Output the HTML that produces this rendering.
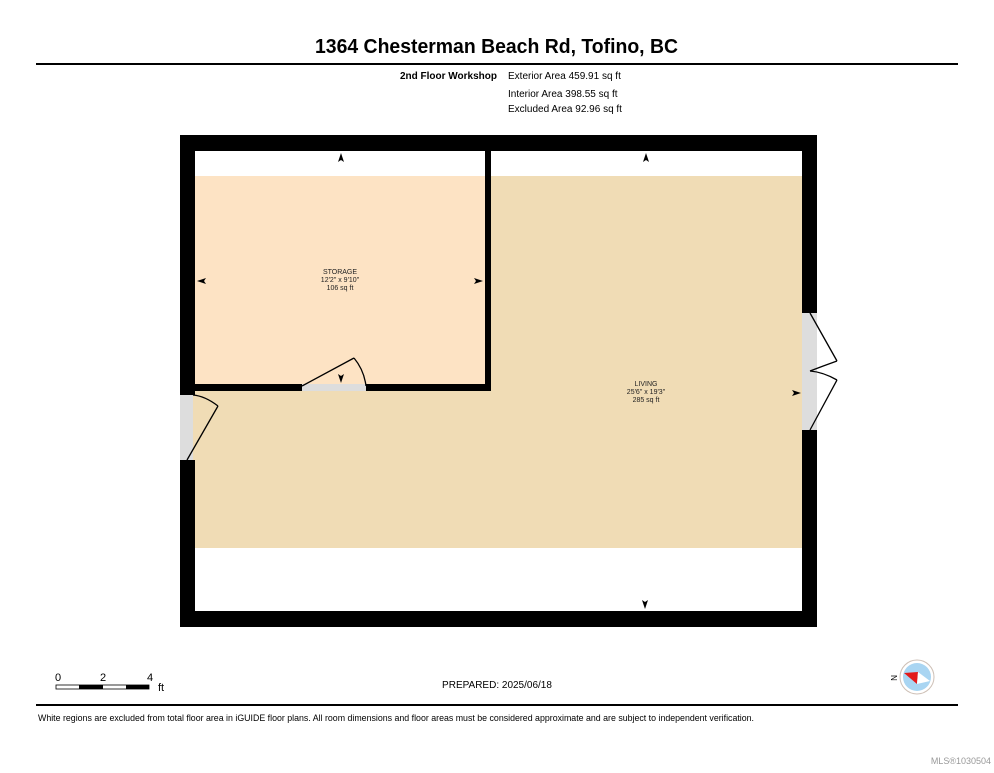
<!DOCTYPE html>
<html><head><style>
body{margin:0;background:#fff;width:994px;height:768px;overflow:hidden;font-family:"Liberation Sans",Arial,sans-serif}
</style></head><body>
<svg width="994" height="768" xmlns="http://www.w3.org/2000/svg" font-family="Liberation Sans, Arial, sans-serif">
<text x="315" y="53" font-size="20" font-weight="bold" textLength="363" lengthAdjust="spacingAndGlyphs">1364 Chesterman Beach Rd, Tofino, BC</text>
<rect x="36" y="63" width="922" height="2" fill="#000"/>
<text x="497" y="79" text-anchor="end" font-size="10" font-weight="bold">2nd Floor Workshop</text>
<text x="508" y="79" font-size="10">Exterior Area 459.91 sq ft</text>
<text x="508" y="97" font-size="10">Interior Area 398.55 sq ft</text>
<text x="508" y="112" font-size="10">Excluded Area 92.96 sq ft</text>

<rect x="193" y="176" width="609" height="372" fill="#f0dcb5"/>
<rect x="195" y="176" width="290" height="208" fill="#fde3c4"/>
<path fill="#000" fill-rule="evenodd" d="M180 135H817V313H802V151H195V395H180Z M180 460H195V611H802V430H817V627H180Z"/>
<rect x="485" y="151" width="6" height="240" fill="#000"/>
<rect x="180" y="384" width="122" height="7" fill="#000"/>
<rect x="366" y="384" width="125" height="7" fill="#000"/>
<rect x="180" y="395" width="13" height="65" fill="#ddd"/>
<rect x="802" y="313" width="15" height="117" fill="#ddd"/>
<rect x="302" y="384" width="64" height="7" fill="#ddd"/>
<g fill="none" stroke="#000" stroke-width="1.3">
<line x1="302" y1="386" x2="354" y2="358"/>
<path d="M354 358 Q364 370 366 386"/>
<line x1="187" y1="460" x2="218" y2="406"/>
<path d="M218 406 Q205 396 193 395"/>
<line x1="810" y1="313" x2="837" y2="361"/>
<path d="M837 361 Q823 366 810 371"/>
<line x1="810" y1="430" x2="837" y2="380"/>
<path d="M837 380 Q823 372 810 371"/>
</g>
<g fill="#000">
<path d="M341 153l-3 9 3-2 3 2z"/>
<path d="M646 153l-3 9 3-2 3 2z"/>
<path d="M645 609l-3-9 3 2 3-2z"/>
<path d="M197 281l9-3-2 3 2 3z"/>
<path d="M483 281l-9-3 2 3-2 3z"/>
<path d="M341 383l-3-9 3 2 3-2z"/>
<path d="M801 393l-9-3 2 3-2 3z"/>
</g>
<g font-size="7" text-anchor="middle" fill="#222">
<text x="340" y="274">STORAGE</text><text x="340" y="282">12'2" x 9'10"</text><text x="340" y="290">106 sq ft</text>
<text x="646" y="386">LIVING</text><text x="646" y="394">25'6" x 19'3"</text><text x="646" y="402">285 sq ft</text>
</g>
<g font-size="11">
<text x="55" y="681">0</text><text x="100" y="681">2</text><text x="147" y="681">4</text><text x="158" y="691">ft</text>
</g>
<rect x="56" y="685" width="93" height="4" fill="#fff" stroke="#000" stroke-width="0.8"/>
<rect x="79" y="685" width="24" height="4" fill="#000"/>
<rect x="126" y="685" width="23" height="4" fill="#000"/>
<text x="497" y="688" text-anchor="middle" font-size="10">PREPARED: 2025/06/18</text>
<circle cx="917" cy="677" r="17" fill="#fff" stroke="#cdbfb5"/>
<circle cx="917" cy="677" r="14" fill="#a9d5f2"/>
<path d="M904 673 L918 672 L917 684Z" fill="#e31b1b"/>
<path d="M918 672 L930 681 L917 684Z" fill="#fff"/>
<text x="896" y="676" font-size="8" transform="rotate(90 894 673)">N</text>
<rect x="36" y="704" width="922" height="2" fill="#000"/>
<text x="38" y="721" font-size="9" textLength="716" lengthAdjust="spacingAndGlyphs">White regions are excluded from total floor area in iGUIDE floor plans. All room dimensions and floor areas must be considered approximate and are subject to independent verification.</text>
<text x="991" y="764" text-anchor="end" font-size="9" fill="#999">MLS®1030504</text>
</svg>
</body></html>
